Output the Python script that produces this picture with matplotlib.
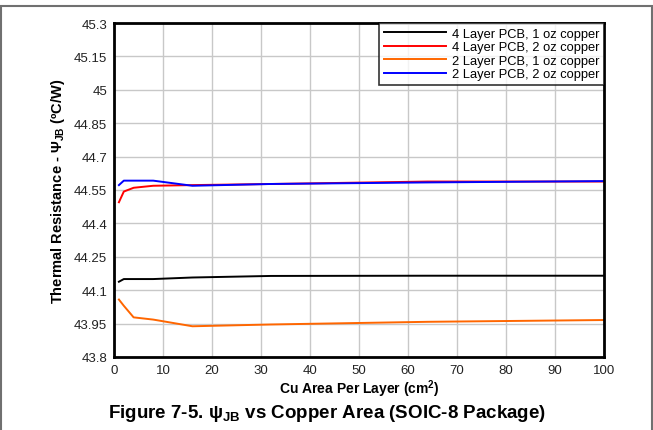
import matplotlib
matplotlib.use("Agg")
import matplotlib.pyplot as plt
from matplotlib.patches import Rectangle

plt.rcParams['font.family'] = ['Liberation Sans', 'DejaVu Sans']
plt.rcParams['mathtext.fontset'] = 'custom'
plt.rcParams['mathtext.rm'] = 'Liberation Sans'
plt.rcParams['mathtext.bf'] = 'Liberation Sans:bold'

# Cu area per layer (cm^2)
area = [1, 2, 4, 8, 16, 32, 64, 100]

# psi_JB (C/W)
l4_1oz = [44.138, 44.150, 44.150, 44.150, 44.157, 44.164, 44.165, 44.165]
l4_2oz = [44.495, 44.543, 44.560, 44.569, 44.572, 44.577, 44.588, 44.588]
l2_1oz = [44.058, 44.030, 43.978, 43.968, 43.938, 43.946, 43.958, 43.966]
l2_2oz = [44.572, 44.592, 44.592, 44.592, 44.569, 44.577, 44.584, 44.590]

labels = ['4 Layer PCB, 1 oz copper', '4 Layer PCB, 2 oz copper',
          '2 Layer PCB, 1 oz copper', '2 Layer PCB, 2 oz copper']
colors = ['#000000', '#ff0000', '#ff6600', '#0000ff']
yticks = [43.8, 43.95, 44.1, 44.25, 44.4, 44.55, 44.7, 44.85, 45, 45.15, 45.3]
ytick_labels = ['43.8', '43.95', '44.1', '44.25', '44.4', '44.55', '44.7',
                '44.85', '45', '45.15', '45.3']

fig = plt.figure(figsize=(6.53, 4.31), dpi=100)
ax = fig.add_axes([0.1746, 0.1694, 0.7504, 0.7749])

for ys, c, lab in zip([l4_1oz, l4_2oz, l2_1oz, l2_2oz], colors, labels):
    ax.plot(area, ys, color=c, lw=1.4, label=lab)

ax.set_xlim(0, 100)
ax.set_ylim(43.8, 45.3)
ax.set_xticks(range(0, 101, 10))
ax.set_yticks(yticks)
ax.set_yticklabels(ytick_labels)
ax.grid(True, color='#c8c8c8', lw=1.0)
ax.set_axisbelow(True)
for s in ax.spines.values():
    s.set_linewidth(2.0)
    s.set_color('black')
ax.tick_params(length=0, labelsize=9.5, pad=5, colors='#222222')

ax.set_xlabel('Cu Area Per Layer (cm$^\\mathbf{2}$)', fontsize=10,
              fontweight='bold', labelpad=1)
ax.set_ylabel('Thermal Resistance - $\\mathbf{\\Psi_{JB}}$ (ºC/W)', fontsize=10.5,
              fontweight='bold', labelpad=5)

leg = ax.legend(loc='upper right', fontsize=9.3, frameon=True, fancybox=False,
                edgecolor='black', borderaxespad=0, handlelength=4.8,
                labelspacing=0.12, borderpad=0.35, handletextpad=0.5)
leg.get_frame().set_linewidth(1.2)

fig.text(0.5, 0.041, 'Figure 7-5. ψ$_{\\mathbf{JB}}$ vs Copper Area (SOIC-8 Package)',
         ha='center', va='center', fontsize=13.5, fontweight='bold')

# gray frame around the figure
fig.patches.append(Rectangle((0.001, -0.01), 0.997, 0.994, transform=fig.transFigure,
                             fill=False, edgecolor='#707070', lw=1.5))

fig.savefig('out.png', dpi=100)
